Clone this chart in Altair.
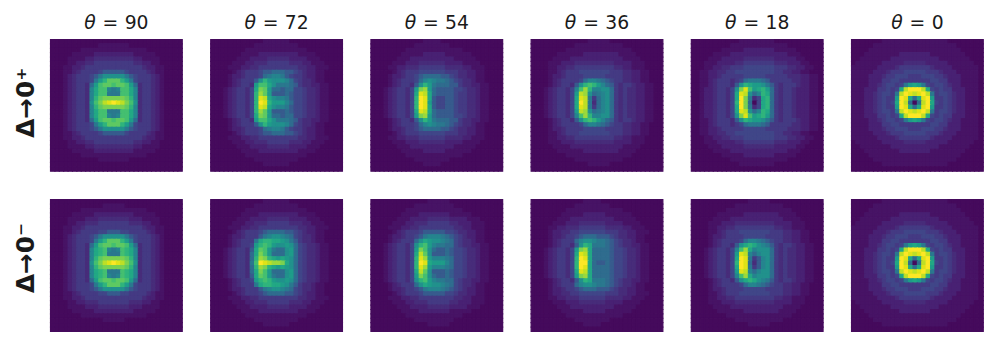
import altair as alt
import pandas as pd

# Each row holds cell levels 0..k (base-21 digit); rows run from the top edge to the centre row.
# The picture is mirrored about the centre row (row 14); row 29 is background.
P90_T_HALF = ["000000000000000","000000000001111","000000011111111","000001111122222","000011112233333",
 "000011223344444","000112234444444","000112344445666","000123444568aaa","00012344458bdff",
 "0001234437beffe","0001234439cee98","0001234439cee88","0001234439dfggg","000123443aegijk"]
P90_B_HALF = ["000000000000000","000000000000111","000000011111111","000001111122222","000011112223333",
 "000011223334444","000112234444444","000112344445566","000123444568aaa","00012344458bdff",
 "0001234437beffe","0001234439cde98","0001234439cde88","0001234439dfggg","000123443aegijk"]
P0_HALF = ["000000011111111","000001111111111","000011111111111","000111111112222","001111111222222",
 "011111122222333","111111222234444","111112223444555","111122234455544","111122244554444",
 "1111223455458bc","11122244545cikk","11122345548ikji","1112234544bkjc7","1112234545cki70"]

P72_T = ["000000000000111111000000000000","000000000011111111110000000000","000000001111111111111100000000",
 "000000011112222222221111000000","000000111222233333222211100000","000001112233344444333221110000",
 "000011122334444444443322111000","0000012344"+"4566777665"+"4322110000",
 "0000122344"+"4578998654"+"4322110000","0000123444"+"6adbaaa975"+"4332110000",
 "0000123443"+"beeca88876"+"4332211000","0001234435"+"cgfb776775"+"5433211000",
 "0001234435"+"dhfb666765"+"5433211000","0001234435"+"djica99865"+"5433211000",
 "0001234435"+"dkjdbbb975"+"5433211000"]
P54_T = ["000000000000111100000000000000","000000000011111111000000000000","000000001111111111111000000000",
 "000000011111222221111110000000","000000111222222222211111000000","000001112223333332222111100000",
 "000011223334444443333221110000","0000012344"+"4555555444"+"3322110000","0000122344"+"5677776654"+"3322110000",
 "0000123444"+"579a988765"+"4332110000","0000123443"+"6adb877766"+"4332211000",
 "0001234435"+"bghb766665"+"5433211000","0001234435"+"cjic766665"+"4433211000",
 "0001234435"+"dkjc655665"+"4433211000","0001234435"+"dkjb655665"+"4433211000"]
P36_T = ["000000000000011111000000000000","000000000011111111111000000000","000000001111111111111110000000",
 "000000111111222222221111000000","000001111222222222222111100000","000011122233333333322221110000",
 "000011223344444444433221110000","0000112344"+"4555555544"+"4332211000","0000122344"+"4455555444"+"4332211000",
 "0000123444"+"4579987654"+"4332211000","0000123443"+"6adedb9764"+"3443221100","0001234435"+"9ehd99aa74"+"3433221100",
 "0001234435"+"biha789a74"+"3433221100","0001234435"+"cji8479a74"+"3433221100","0001234435"+"cki8379a74"+"3433221100"]
P18_T = ["000000000001111111100000000000","000000000111111111111100000000","000000011111222222211111000000",
 "000001111222222222222211100000","000011122222333333322222110000","000111222233444444433322211000",
 "000112233444555555544433221100","001122334455555555544332211000","0011223444"+"4455555444"+"4433322110",
 "0011234443"+"4578887644"+"4443322110","0011234443"+"6adcbba864"+"3444322110","0012234435"+"agjebcdb74"+"3443222110",
 "0012234435"+"cjia79dc74"+"3443222110","0012234435"+"ckg835cd74"+"3443222110","0012234435"+"dkg705cd74"+"3443222110"]
P72_B = ["000000000000111111000000000000","000000000011111111110000000000","000000001111111111111100000000",
 "000000011112222222221111000000","000000111222233333222211100000","000001112233344444333221110000",
 "000011122334444444443322111000","0000012344"+"4567777665"+"4322110000","0000122344"+"4689aa9875"+"4332110000",
 "0000123444"+"8cddccba86"+"4332110000","0000123445"+"bdedbaaba7"+"5433211000","0001234436"+"cfeb877ab7"+"5433211000",
 "0001234437"+"cgeb777ab7"+"5433211000","0001234437"+"dhgdcbcba7"+"5433211000","0001234438"+"ekjihhgca7"+"5433211000"]
P54_B = ["000000000000011111000000000000","000000000011111111100000000000","000000001111111111111000000000",
 "000000011112222222111110000000","000000111222233333222211100000","000001112233344444332221110000",
 "000011122334444444433221110000","0000012344"+"4566666554"+"3322110000","0000122344"+"5689998765"+"4322110000",
 "0000123444"+"7acbaa9875"+"4332110000","0001234435"+"adeb988775"+"4332211000","0001234435"+"bgea766765"+"5433211000",
 "0001234435"+"cifa666765"+"5433211000","0001234435"+"djhb999875"+"5433211000","0001234435"+"dkjcbbb975"+"5433211000"]
P36_B = ["000000000000111100000000000000","000000000011111111000000000000","000000001111111111111000000000",
 "000000011111222221111110000000","000000111222222222211111000000","000001112223333332222111100000",
 "000011223334444443333221110000","000012233445555554443322111000","0000122344"+"5677766654"+"3322110000",
 "0000123444"+"79aa988765"+"4332110000","0000123443"+"6adc888765"+"4332211000","0001234435"+"bghc777765"+"5433211000",
 "0001234435"+"cjic777765"+"5433211000","0001234435"+"dkjc777765"+"5433211000","0001234435"+"dkkc766765"+"5433211000"]
P18_B = ["000000000000011111000000000000","000000000011111111111000000000","000000001111111111111110000000",
 "000000111111222222221111000000","000001111222222222222111100000","000011122233333333322221110000",
 "000011223344444444433221110000","0000112344"+"4555555544"+"4332211000","0000122344"+"4455555444"+"4332211000",
 "0000123444"+"4579987654"+"4332211000","0000123443"+"6acdca9864"+"3443221100","0001234435"+"9ehc9aaa74"+"3433221100",
 "0001234435"+"bji979aa74"+"3433221100","0001234435"+"ckj8469a74"+"3433221100","0001234435"+"dkj7369a74"+"3433221100"]

ANGLES = ["90", "72", "54", "36", "18", "0"]
ROW_LABELS = ["Δ→0⁺", "Δ→0⁻"]
# Colours of the 21 levels
LEVEL_COLOURS = ["#450a5c", "#471365", "#482173", "#472c7a", "#443a83", "#404688", "#375b8d", "#2f6c8e",
                 "#2a788e", "#25848e", "#21918c", "#1e9c89", "#22a884", "#2fb47c", "#44bf70", "#5ec962",
                 "#7ad151", "#9bd93c", "#bddf26", "#dfe318", "#fde725"]


def full(half):
    return [h + h[-2::-1] + "0" for h in half]


TOP = [full(P90_T_HALF), P72_T, P54_T, P36_T, P18_T, full(P0_HALF)]
BOTTOM = [full(P90_B_HALF), P72_B, P54_B, P36_B, P18_B, full(P0_HALF)]

bad = [(i, j, len(r)) for i, p in enumerate(TOP + BOTTOM) for j, r in enumerate(p) if len(r) != 30]
if bad:
    raise ValueError(bad)

DIGITS = "0123456789abcdefghijk"
W = 133.2


def cells(rows):
    recs = []
    seq = list(rows) + list(rows[-2::-1]) + ["0" * 30]
    for y, row in enumerate(seq):
        for x, ch in enumerate(row):
            recs.append({"x": x, "y": y, "v": DIGITS.index(ch)})
    return pd.DataFrame(recs)


def label(txt, x, y, align="left", style="normal", size=19, **kw):
    return alt.Chart(pd.DataFrame({"t": [txt]})).mark_text(
        font="DejaVu Sans", fontSize=size, fontStyle=style, align=align, color="#1a1a1a", **kw
    ).encode(text="t:N", x=alt.value(x), y=alt.value(y))


def panel(rows, angle=None, row_label=None, label_y=0):
    scale = alt.Scale(domain=list(range(21)), range=LEVEL_COLOURS)
    base = alt.Chart(cells(rows)).mark_rect(strokeWidth=1.2).encode(
        x=alt.X("x:O", axis=None, scale=alt.Scale(paddingInner=0, paddingOuter=0)),
        y=alt.Y("y:O", axis=None, scale=alt.Scale(paddingInner=0, paddingOuter=0)),
        color=alt.Color("v:Q", scale=scale, legend=None),
        stroke=alt.Stroke("v:Q", scale=scale, legend=None),
    )
    layers = [base]
    if angle is not None:
        half = 32.5 if len(angle) == 2 else 26.5
        c = W / 2
        layers.append(label("θ", c - half, -10.5, style="italic", baseline="alphabetic"))
        layers.append(label("=", c - half + 26.5, -10.5, align="center", baseline="alphabetic"))
        layers.append(label(angle, c + half, -10.5, align="right", baseline="alphabetic"))
    if row_label:
        layers.append(label(row_label, -25, label_y, align="center", size=25, angle=270,
                            baseline="middle", fontWeight="bold"))
    return alt.layer(*layers).properties(width=W, height=W)


row1 = alt.hconcat(*[panel(r, angle=a, row_label=ROW_LABELS[0] if i == 0 else None, label_y=64)
                     for i, (r, a) in enumerate(zip(TOP, ANGLES))], spacing=27)
row2 = alt.hconcat(*[panel(r, row_label=ROW_LABELS[1] if i == 0 else None, label_y=59)
                     for i, r in enumerate(BOTTOM)], spacing=27)
chart = alt.vconcat(row1, row2, spacing=27).properties(
    padding={"left": 6, "top": 4, "right": 5, "bottom": 5}, background="white"
).configure_view(stroke=None)
chart.save("out.html", embed_options={"renderer": "svg", "actions": False})
